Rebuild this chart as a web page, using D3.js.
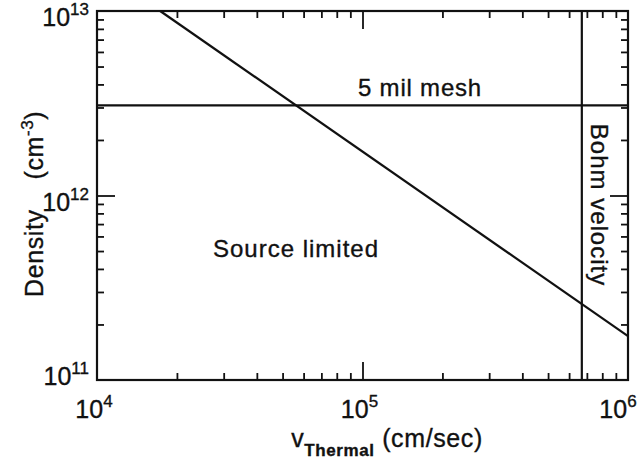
<!DOCTYPE html>
<html>
<head>
<meta charset="utf-8">
<script src="https://cdn.jsdelivr.net/npm/d3@7"></script>
<style>
  body { margin: 0; background: #fff; }
  text { font-family: "Liberation Sans", Arial, sans-serif; fill: #111; stroke: #111; stroke-width: 0.35px; }
</style>
</head>
<body>
<svg class="vis" width="638" height="459"></svg>
<script>
// Density vs thermal velocity (log-log)

var xDomain = [1e4, 1e6];
var yDomain = [1e11, 1e13];
var xDecades = [1e4, 1e5, 1e6];
var yDecades = [1e11, 1e12, 1e13];
var xExponents = ["4", "5", "6"];
var yExponents = ["11", "12", "13"];

// source limit line n ~ 1/v
var limitV = [1.73e4, 1e6];
var limitN = [1e13, 1.73e11];

var meshDensity = 3.08e12;   // 5 mil mesh
var bohmVelocity = 6.7e5;    // Bohm velocity

var svg = d3.select(".vis");

var margin = { top: 11, right: 10, bottom: 79, left: 97 },
    width = 638 - margin.left - margin.right,
    height = 459 - margin.top - margin.bottom;

var g = svg.append("g")
    .attr("transform", "translate(" + margin.left + "," + margin.top + ")");

var x = d3.scaleLog().domain(xDomain).range([0, width]);
var y = d3.scaleLog().domain(yDomain).range([height, 0]);

// minor ticks 2..9 in each decade
function minors(dec) {
    var out = [];
    for (var i = 0; i < dec.length - 1; i++) {
        for (var k = 2; k <= 9; k++) out.push(dec[i] * k);
    }
    return out;
}
var xMinor = minors(xDecades);
var yMinor = minors(yDecades);
var xMajorInner = xDecades.slice(1, -1);
var yMajorInner = yDecades.slice(1, -1);

function tickAxis(axisFn, scale, vals, size) {
    return axisFn(scale).tickValues(vals).tickSize(-size).tickFormat("");
}

var axes = [
    { fn: d3.axisBottom, s: x, t: "translate(0," + height + ")" },
    { fn: d3.axisTop, s: x, t: "translate(0,0)" },
    { fn: d3.axisLeft, s: y, t: "translate(0,0)" },
    { fn: d3.axisRight, s: y, t: "translate(" + width + ",0)" }
];

axes.forEach(function (a) {
    var isX = a.s === x;
    var ga = g.append("g").attr("transform", a.t)
        .call(tickAxis(a.fn, a.s, isX ? xMinor : yMinor, 7));
    ga.select(".domain").remove();
    var gb = g.append("g").attr("transform", a.t)
        .call(tickAxis(a.fn, a.s, isX ? xMajorInner : yMajorInner, 18));
    gb.select(".domain").remove();
    g.selectAll(".tick line").attr("stroke", "#111").attr("stroke-width", 1.8);
});

// frame
g.append("rect")
    .attr("x", 0).attr("y", 0)
    .attr("width", width).attr("height", height)
    .attr("fill", "none")
    .attr("stroke", "#111")
    .attr("stroke-width", 2.2);

// x tick labels
var xl = g.selectAll(".xlab")
    .data(xDecades)
    .enter().append("text")
    .attr("class", "xlab")
    .attr("x", function (d) { return Math.min(x(d) - 3, width - 10); })
    .attr("y", height + 38)
    .attr("text-anchor", "middle")
    .style("font-size", "25px");
xl.append("tspan").text("10");
xl.append("tspan")
    .attr("dy", -11)
    .style("font-size", "17px")
    .text(function (d, i) { return xExponents[i]; });

// y tick labels
var yl = g.selectAll(".ylab")
    .data(yDecades)
    .enter().append("text")
    .attr("class", "ylab")
    .attr("x", -8)
    .attr("y", function (d) { return Math.min(y(d) + 15, height + 5); })
    .attr("text-anchor", "end")
    .style("font-size", "25px");
yl.append("tspan").text("10");
yl.append("tspan")
    .attr("dy", -11)
    .style("font-size", "17px")
    .text(function (d, i) { return yExponents[i]; });

// lines
var line = d3.line()
    .x(function (d) { return x(d[0]); })
    .y(function (d) { return y(d[1]); });

g.append("path")
    .datum(limitV.map(function (v, i) { return [v, limitN[i]]; }))
    .attr("d", line)
    .attr("fill", "none")
    .attr("stroke", "#111")
    .attr("stroke-width", 2.2);

g.append("path")
    .datum([[xDomain[0], meshDensity], [xDomain[1], meshDensity]])
    .attr("d", line)
    .attr("fill", "none")
    .attr("stroke", "#111")
    .attr("stroke-width", 2.2);

g.append("path")
    .datum([[bohmVelocity, yDomain[0]], [bohmVelocity, yDomain[1]]])
    .attr("d", line)
    .attr("fill", "none")
    .attr("stroke", "#111")
    .attr("stroke-width", 2.2);

// annotations
g.append("text")
    .attr("x", 323)
    .attr("y", 85)
    .attr("text-anchor", "middle")
    .style("font-size", "24px")
    .style("letter-spacing", "0.8px")
    .text("5 mil mesh");

g.append("text")
    .attr("x", 199)
    .attr("y", 246)
    .attr("text-anchor", "middle")
    .style("font-size", "24px")
    .style("letter-spacing", "1px")
    .text("Source limited");

g.append("text")
    .attr("transform", "translate(" + (x(bohmVelocity) + 9) + ",194) rotate(90)")
    .attr("text-anchor", "middle")
    .style("font-size", "24px")
    .style("letter-spacing", "1px")
    .text("Bohm velocity");

// axis titles
var xt = svg.append("text")
    .attr("x", 387)
    .attr("y", 447)
    .attr("text-anchor", "middle")
    .style("font-size", "25px")
    .style("letter-spacing", "0.6px");
xt.append("tspan").text("v");
xt.append("tspan").attr("dy", 9).style("font-size", "17px").style("font-weight", "bold").text("Thermal");
xt.append("tspan").attr("dy", -9).text(" (cm/sec)");

var yt = svg.append("text")
    .attr("transform", "translate(43,297) rotate(-90)")
    .attr("text-anchor", "start")
    .style("font-size", "25px")
    .style("letter-spacing", "0.6px");
yt.append("tspan").text("Density");
yt.append("tspan").attr("dx", 30).text("(cm");
yt.append("tspan").attr("dy", -10).style("font-size", "17px").text("-3");
yt.append("tspan").attr("dy", 10).text(")");
</script>
</body>
</html>
